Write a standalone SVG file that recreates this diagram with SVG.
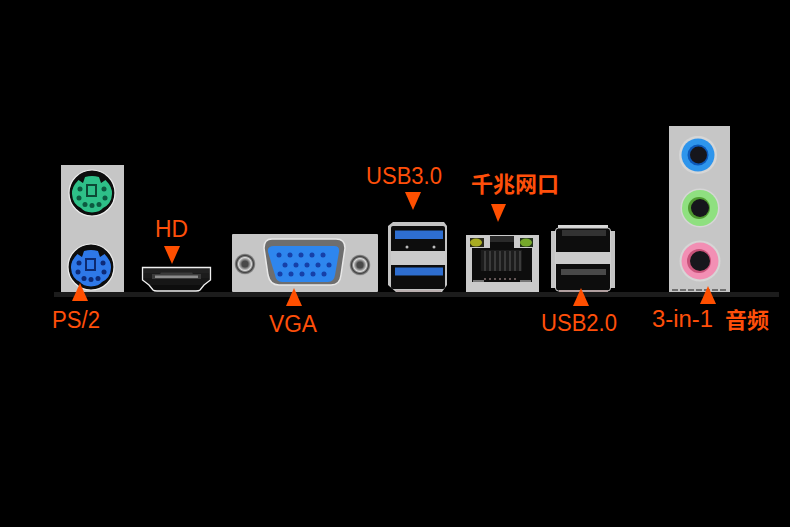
<svg xmlns="http://www.w3.org/2000/svg" width="790" height="527" viewBox="0 0 790 527">
<style>
.l{font-family:"Liberation Sans","Noto Sans CJK SC",sans-serif;font-size:23px;fill:#ff4f0a}
.c{font-family:"Noto Sans CJK SC","Liberation Sans",sans-serif;font-size:22px;font-weight:700;fill:#ff4f0a}
.a{fill:#ff4f00}
.plate{fill:#c6c6c6}
.hole{fill:#0a0a0a;stroke:#ececec;stroke-width:1.2}
.ring{fill:#d6d6d6}
.steel{fill:#c4c4c4}
.soft{filter:url(#soft)}
</style>
<defs>
<filter id="soft" x="-5%" y="-5%" width="110%" height="110%"><feGaussianBlur stdDeviation="0.6"/></filter>
<path id="din" d="M-13.500-13 L-9-10 L-7-16 Q0-18 7-16 L9-10 L13.500-13 Q20.500-6 20 1 Q19.500 11 11 15 Q8 19 0 19.500 Q-8 19 -11 15 Q-19.500 11 -20 1 Q-20.500-6 -13.500-13Z"/>
<g id="din-holes">
<circle cx="-12" cy="-4" r="2.500"/><circle cx="12" cy="-4" r="2.500"/><circle cx="-13" cy="5" r="2.500"/><circle cx="13" cy="5" r="2.500"/><circle cx="-7" cy="11.500" r="2.500"/><circle cx="0" cy="12.500" r="2.500"/><circle cx="7" cy="11.500" r="2.500"/>
</g>
<radialGradient id="metal"><stop offset="0" stop-color="#555"/><stop offset=".4" stop-color="#777"/><stop offset=".62" stop-color="#d8d8d8"/><stop offset=".8" stop-color="#3e3e3e"/><stop offset="1" stop-color="#a8a8a8"/></radialGradient>
<linearGradient id="hdmi" x1="0" y1="0" x2="0" y2="1"><stop offset="0" stop-color="#262626"/><stop offset="1" stop-color="#0a0a0a"/></linearGradient>
</defs>
<rect width="790" height="527" fill="#000"/>

<g id="connectors">
<rect x="54" y="292" width="725" height="5" fill="#1c1c1c"/>
</g>

<g id="ps2">
<rect class="plate" x="61" y="165" width="63" height="127"/>
<g class="soft">
<circle cx="92" cy="193" r="23" class="hole"/>
<g transform="translate(92,193)">
<use href="#din" fill="#2fc088"/>
<rect x="-5" y="-8" width="9" height="11" fill="#2fc088" stroke="#0a4a34" stroke-width="2"/>
<use href="#din-holes" fill="#0a5a40"/>
</g>
<circle cx="91" cy="267" r="23" class="hole"/>
<g transform="translate(91,267)">
<use href="#din" fill="#2f78e8"/>
<rect x="-5" y="-8" width="9" height="11" fill="#2f78e8" stroke="#0a2a70" stroke-width="2"/>
<use href="#din-holes" fill="#0c2a78"/>
</g>
</g>
<path class="a" d="M80 283 L88 301 L72 301Z"/>
<text class="l" x="52" y="328" textLength="48" lengthAdjust="spacingAndGlyphs">PS/2</text>
</g>

<g id="hd">
<path class="soft" d="M142.500 267.500 H210.500 V280 L204 285 L200 290 Q199 291 196 291 H157 Q154 291 153 290 L149 285 L142.500 280Z" fill="url(#hdmi)" stroke="#f0f0f0" stroke-width="1.300"/>
<path class="soft" d="M152 274 L160 274 L161 272.500 L192 272.500 L193 274 L201 274 L201 279 L152 279Z" fill="#3a3a3a"/>
<rect class="soft" x="155" y="275.500" width="43" height="2.500" fill="#8c8c8c"/>
<path class="a" d="M164 246 L180 246 L172 264Z"/>
<text class="l" x="155" y="237" textLength="33" lengthAdjust="spacingAndGlyphs">HD</text>
</g>

<g id="vga">
<rect class="plate" x="232" y="234" width="146" height="58" rx="1"/>
<g class="soft">
<circle cx="245" cy="264" r="10.500" fill="url(#metal)"/>
<circle cx="245" cy="264" r="3.500" fill="#484848"/>
<circle cx="360" cy="265" r="10.500" fill="url(#metal)"/>
<circle cx="360" cy="265" r="3.500" fill="#484848"/>
<path d="M272 239 H336 Q345 239 345 248 L341 275 Q340 285 331 285 H279 Q270 285 268 275 L264 248 Q264 239 272 239Z" fill="#6e6e6e" stroke="#e8e8e8" stroke-width="1.500"/>
<path d="M274 246 H334 Q340 246 339 252 L335 275 Q334 282 328 282 H282 Q276 282 275 275 L268 252 Q267 246 274 246Z" fill="#2e86ee"/>
<g fill="#163fa8">
<circle cx="279" cy="255" r="2.500"/><circle cx="290" cy="255" r="2.500"/><circle cx="301" cy="255" r="2.500"/><circle cx="312" cy="255" r="2.500"/><circle cx="323" cy="255" r="2.500"/>
<circle cx="285" cy="265" r="2.500"/><circle cx="296" cy="265" r="2.500"/><circle cx="307" cy="265" r="2.500"/><circle cx="318" cy="265" r="2.500"/><circle cx="329" cy="265" r="2.500"/>
<circle cx="280" cy="274" r="2.500"/><circle cx="291" cy="274" r="2.500"/><circle cx="302" cy="274" r="2.500"/><circle cx="313" cy="274" r="2.500"/><circle cx="324" cy="274" r="2.500"/>
</g>
</g>
<path class="a" d="M294 288 L302 306 L286 306Z"/>
<text class="l" x="269" y="332" textLength="48" lengthAdjust="spacingAndGlyphs">VGA</text>
</g>

<g id="usb3">
<g class="soft">
<path d="M393 222 H444 L447 226 V285 L442 292 H396 L388 285 V226Z" class="steel"/>
<rect x="391" y="226" width="54" height="63" rx="2" fill="#0b0b0b"/>
<rect x="395" y="230.500" width="48" height="8.500" fill="#2f6ed0"/>
<rect x="395" y="267.500" width="48" height="8" fill="#2f6ed0"/>
<rect x="391" y="251" width="56" height="14" fill="#cbcbcb"/>
<circle cx="407" cy="247" r="1.500" fill="#bbb"/>
<circle cx="434" cy="247" r="1.500" fill="#bbb"/>
<path d="M396 291 H441" stroke="#b09a9a" fill="none"/>
</g>
<path class="a" d="M405 192 L421 192 L413 210Z"/>
<text class="l" x="366" y="184" textLength="76" lengthAdjust="spacingAndGlyphs">USB3.0</text>
</g>

<g id="rj45">
<rect x="466" y="235" width="73" height="57" fill="#cacaca"/>
<g class="soft">
<path d="M472 248 H490 V236 H514 V248 H532 V282 H472Z" fill="#0e0e0e"/>
<rect x="490" y="236" width="24" height="6" fill="#2a2a2a"/>
<rect x="470" y="238" width="14" height="9" fill="#2c2c1a"/>
<rect x="520" y="238" width="13" height="9" fill="#23301a"/>
<ellipse cx="476" cy="242.500" rx="6" ry="4" fill="#a8ac20"/>
<ellipse cx="526" cy="242.500" rx="6" ry="4" fill="#74a82c"/>
<path d="M481 250 H522 V271 H481Z" fill="#1d1d1d"/>
<path d="M485 251 V271 M490 251 V271 M495 251 V271 M500 251 V271 M505 251 V271 M510 251 V271 M515 251 V271 M520 251 V271" stroke="#444" stroke-width="1.600"/>
<path d="M484 279 H518" stroke="#b89a9a" stroke-width="1" stroke-dasharray="2 3"/>
<rect x="473" y="280" width="11" height="2" fill="#777"/>
<rect x="520" y="280" width="11" height="2" fill="#777"/>
</g>
<path class="a" d="M491 204 L506 204 L498 222Z"/>
<text class="c" x="471" y="192">千兆网口</text>
</g>

<g id="usb2">
<g class="soft">
<path class="steel" d="M551 231 H556 V288 H551Z"/>
<path class="steel" d="M610 231 H615 V288 H610Z"/>
<rect x="558" y="225" width="50" height="4" fill="#d8d8d8"/>
<rect x="555.500" y="228" width="55" height="63" rx="3" fill="#0c0c0c" stroke="#cfcfcf"/>
<rect x="562" y="230" width="44" height="6" fill="#333"/>
<rect x="561" y="269" width="45" height="6" fill="#484848"/>
<rect x="556" y="252" width="54" height="12" fill="#cbcbcb"/>
<path d="M559 291 H608" stroke="#c9b0b0" stroke-width="1.500"/>
</g>
<path class="a" d="M581 288 L589 306 L573 306Z"/>
<text class="l" x="541" y="331" textLength="76" lengthAdjust="spacingAndGlyphs">USB2.0</text>
</g>

<g id="audio">
<rect class="plate" x="669" y="126" width="61" height="166"/>
<g class="soft">
<circle class="ring" cx="698" cy="155" r="19"/>
<circle cx="698" cy="155" r="16.500" fill="#2f95ec"/>
<circle cx="698" cy="155" r="10.500" fill="#0c58b8"/>
<circle cx="698.500" cy="155" r="8.500" fill="#17171b"/>
<circle class="ring" cx="700" cy="208" r="19.500"/>
<circle cx="700" cy="208" r="18" fill="#8fe080"/>
<circle cx="699" cy="208" r="11" fill="#4f9a30"/>
<circle cx="700" cy="208" r="9" fill="#17171b"/>
<circle class="ring" cx="700" cy="261" r="20.500"/>
<circle cx="700" cy="261" r="18.500" fill="#f28fb4"/>
<circle cx="699" cy="261" r="12" fill="#c8527a"/>
<circle cx="700" cy="261" r="10" fill="#17171b"/>
<path d="M672 290 H728" stroke="#555" stroke-width="1.500" stroke-dasharray="6 2"/>
</g>
<path class="a" d="M708 286 L716 304 L700 304Z"/>
<text class="l" x="652" y="327" textLength="61" lengthAdjust="spacingAndGlyphs">3-in-1</text>
<text class="c" x="725" y="328">音频</text>
</g>
</svg>
